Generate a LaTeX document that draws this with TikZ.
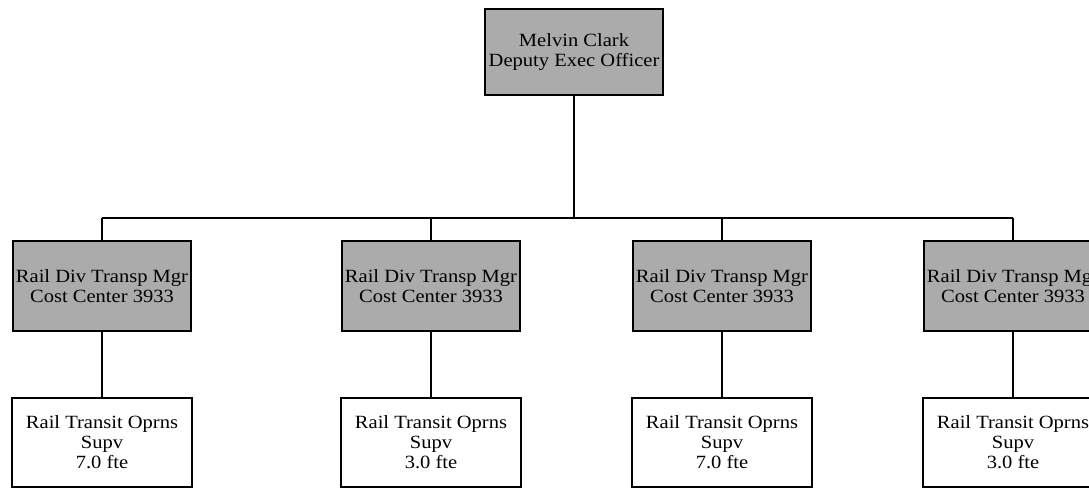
\documentclass[tikz,border=0pt]{standalone}
\usepackage{fontspec}
\setmainfont{Liberation Serif}[FakeStretch=1.1]
\begin{document}
\begin{tikzpicture}[x=0.75pt,y=-0.75pt,
  box/.style={draw=black, line width=1.4pt, align=center, inner sep=0pt,
    font=\fontsize{14pt}{15pt}\selectfont},
  graybox/.style={box, fill=black!33, minimum width=134pt, minimum height=68pt},
  whitebox/.style={box, fill=white, minimum width=135pt, minimum height=66.5pt},
  link/.style={draw=black, line width=1.3pt}]
\useasboundingbox (0,0) rectangle (1089,488);
\clip (0,0) rectangle (1089,488);
\node[graybox, minimum width=134pt, minimum height=65pt] (top) at (574,52) {Melvin Clark\\Deputy Exec Officer};
\coordinate (bus) at (0,218);
\node[graybox] (m1) at (102,286) {Rail Div Transp Mgr\\Cost Center 3933};
\node[graybox] (m2) at (431,286) {Rail Div Transp Mgr\\Cost Center 3933};
\node[graybox] (m3) at (722,286) {Rail Div Transp Mgr\\Cost Center 3933};
\node[graybox] (m4) at (1013,286) {Rail Div Transp Mgr\\Cost Center 3933};
\node[whitebox] (b1) at (102,442.5) {Rail Transit Oprns\\Supv\\7.0 fte};
\node[whitebox] (b2) at (431,442.5) {Rail Transit Oprns\\Supv\\3.0 fte};
\node[whitebox] (b3) at (722,442.5) {Rail Transit Oprns\\Supv\\7.0 fte};
\node[whitebox] (b4) at (1013,442.5) {Rail Transit Oprns\\Supv\\3.0 fte};
\draw[link] (top.south) -- (top.south |- bus);
\draw[link] (bus -| m1.north) -- (bus -| m4.north);
\foreach \i in {1,2,3,4} {
  \draw[link] (bus -| m\i.north) -- (m\i.north);
  \draw[link] (m\i.south) -- (b\i.north);
}
\end{tikzpicture}
\end{document}
